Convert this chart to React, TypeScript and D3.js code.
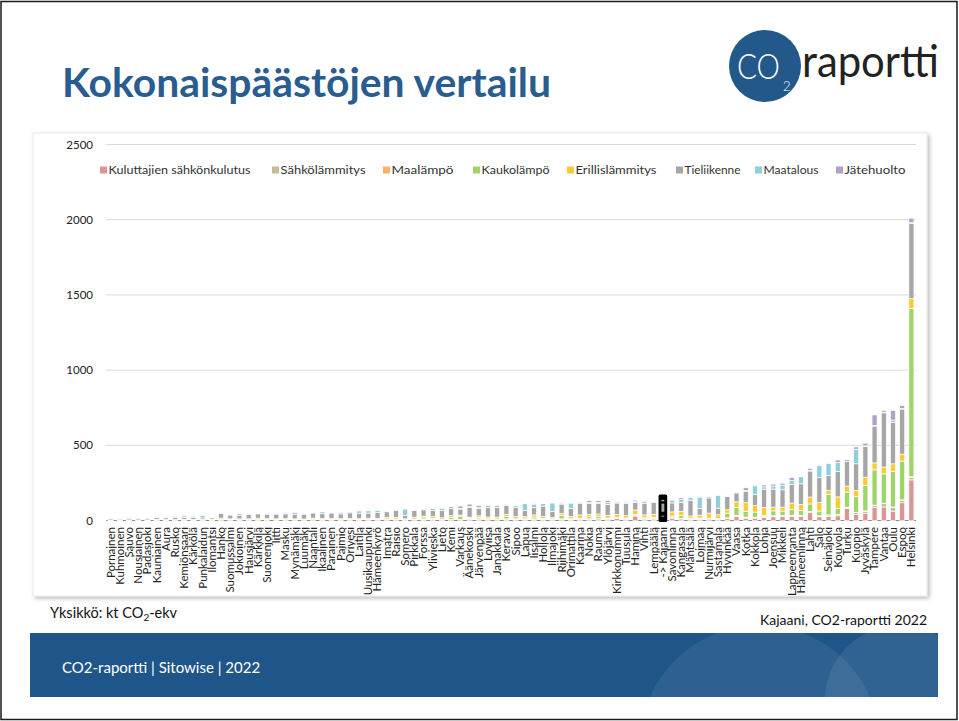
import React from 'react';
import * as d3 from 'd3';

const municipalities = [
  'Pornainen','Kuhmoinen','Sauvo','Nousiainen','Padasjoki','Kauniainen','Aura','Rusko','Kemiönsaari','Kärkölä',
  'Punkalaidun','Ilomantsi','Hanko','Suomussalmi','Jokioinen','Hausjärvi','Kärkkilä','Suonenjoki','Iitti','Masku',
  'Mynämäki','Luumäki','Naantali','Ikaalinen','Parainen','Paimio','Orivesi','Laitila','Uusikaupunki','Hämeenkyrö',
  'Imatra','Raisio','Somero','Pirkkala','Forssa','Ylivieska','Lieto','Kemi','Varkaus','Äänekoski',
  'Järvenpää','Loviisa','Janakkala','Kerava','Sipoo','Lapua','Iisalmi','Hollola','Ilmajoki','Riihimäki',
  'Orimattila','Kaarina','Nokia','Rauma','Ylöjärvi','Kirkkonummi','Tuusula','Hamina','Vihti','Lempäälä',
  '-> Kajaani','Savonlinna','Kangasala','Mäntsälä','Loimaa','Nurmijärvi','Sastamala','Hyvinkää','Vaasa','Kotka',
  'Kokkola','Lohja','Joensuu','Mikkeli','Lappeenranta','Hämeenlinna','Lahti','Salo','Seinäjoki','Kouvola',
  'Turku','Kuopio','Jyväskylä','Tampere','Vantaa','Oulu','Espoo','Helsinki'
];

const kuluttajienSahkonkulutus = [
  1,1,1,1,1,2,2,2,2,2, 2,1,4,3,3,3,3,3,3,3, 3,3,4,3,4,3,3,3,4,4, 5,5,3,5,5,5,4,6,6,6,
  8,6,6,8,6,6,7,7,5,8, 6,8,8,10,8,14,8,30,9,9, 12,14,10,7,7,9,7,12,25,16,
  16,20,25,26,27,26,52,25,26,31, 80,41,48,86,90,62,118,270
];
const sahkolammitys = [
  1,1,1,1,1,1,1,1,2,1, 2,1,2,2,2,2,2,2,2,2, 2,2,2,2,2,2,2,2,2,2, 2,2,2,2,2,4,2,2,2,4,
  3,3,3,3,3,4,4,3,4,3, 4,3,3,3,4,4,4,4,7,7, 6,8,5,7,7,5,5,5,7,5,
  5,7,5,5,5,8,8,5,10,8, 7,12,14,14,22,26,16,18
];
const maalampo = [
  0,0,0,0,0,0,0,0,0,0, 0,0,0,0,0,0,0,0,0,0, 0,0,0,0,0,0,0,0,0,0, 0,0,0,0,0,0,0,0,0,0,
  0,0,0,0,0,0,0,0,0,0, 0,0,0,0,0,0,0,0,0,0, 1,0,0,0,0,0,0,0,1,1,
  1,1,1,1,1,1,1,1,1,1, 2,1,2,2,3,2,3,3
];
const kaukolampo = [
  0,0,0,0,0,2,0,0,1,1, 0,6,2,2,1,1,2,2,1,1, 1,1,2,2,2,2,2,2,2,2, 3,3,1,3,10,4,2,14,18,4,
  8,2,2,16,3,6,12,4,2,22, 2,4,14,14,4,2,4,6,2,5, 22,8,18,1,2,2,2,32,54,40,
  34,5,33,31,40,32,49,32,137,39, 100,107,170,235,195,235,258,1120
];
const erillislammitys = [
  2,2,2,2,2,3,3,3,3,3, 3,2,8,4,5,5,9,5,5,6, 5,4,8,6,6,5,6,5,7,7, 10,10,5,12,12,14,10,12,10,8,
  12,12,12,14,14,10,14,12,8,14, 14,22,16,16,18,20,16,30,19,19, 10,27,26,15,20,33,24,22,37,58,
  44,54,25,26,43,40,46,57,26,78, 40,39,54,46,46,52,46,65
];
const tieliikenne = [
  9,7,9,10,10,11,12,14,13,13, 10,9,32,25,24,28,28,30,32,32, 28,32,34,32,36,32,38,36,34,38, 38,48,22,46,42,40,48,45,40,66,
  50,62,64,58,60,40,48,70,40,62, 56,78,74,72,72,76,80,50,78,82, 70,60,62,105,45,101,44,89,59,74,
  73,122,120,115,125,137,173,165,98,169, 162,177,204,245,360,275,300,500
];
const maatalous = [
  2,2,6,5,2,0,6,9,10,9, 18,1,3,4,11,7,2,6,5,7, 14,4,3,13,5,11,7,16,16,15, 3,6,44,4,6,14,15,3,4,4,
  4,14,12,2,12,46,24,16,58,4, 34,4,4,6,14,8,10,8,12,2, 24,19,21,17,75,9,85,5,7,5,
  57,15,20,31,24,47,5,79,82,60, 0,97,4,4,4,16,4,4
];
const jatehuolto = [
  1,1,1,1,1,1,1,1,1,1, 1,1,1,1,1,1,1,1,1,1, 1,1,1,1,1,1,1,1,2,2, 2,2,2,2,2,2,2,10,16,17,
  15,4,4,6,3,4,3,4,4,6, 5,4,13,11,14,3,5,8,4,1, 8,3,10,1,2,2,2,3,5,19,
  0,12,13,13,21,3,13,0,0,16, 12,15,18,70,12,64,20,30
];

const seriesNames = [
  'Kuluttajien sähkönkulutus','Sähkölämmitys','Maalämpö','Kaukolämpö',
  'Erillislämmitys','Tieliikenne','Maatalous','Jätehuolto'
];
const seriesValues = [
  kuluttajienSahkonkulutus, sahkolammitys, maalampo, kaukolampo,
  erillislammitys, tieliikenne, maatalous, jatehuolto
];
const seriesColors = ['#da9694','#c4bd97','#fab06c','#9fd46a','#ffc931','#a6a6a6','#92cddc','#b1a0c7'];
const yTicks = [0, 500, 1000, 1500, 2000, 2500];
const highlighted = '-> Kajaani';

const FONT = "Lato, Carlito, 'Open Sans', sans-serif";

export default function App() {
  const W = 959, H = 721;
  const plotL = 106, plotR = 916, plotTop = 144.5, plotBottom = 520.5;

  const rows = municipalities.map((m, i) => {
    const r: Record<string, any> = { name: m };
    seriesNames.forEach((s, k) => { r[s] = seriesValues[k][i]; });
    return r;
  });
  const stacked = d3.stack<any>().keys(seriesNames)(rows);

  const x = d3.scaleBand<string>().domain(municipalities).range([plotL, plotR])
    .paddingInner(0.45).paddingOuter(0.225);
  const y = d3.scaleLinear().domain([0, 2500]).range([plotBottom, plotTop]);
  const bw = x.bandwidth();

  const legendX = [100, 272, 383, 473, 567, 676, 755, 836];
  const legendW = [142, 85, 62, 68, 81, 56, 55, 61];

  const hx = (x(highlighted) as number);
  const hTop = y(d3.sum(seriesValues, (s) => s[municipalities.indexOf(highlighted)]));

  return (
    <svg width={W} height={H} style={{ position: 'absolute', left: 0, top: 0, background: '#fff' }}
      fontFamily={FONT}>
      <defs>
        <filter id="panelShadow" x="-5%" y="-5%" width="110%" height="115%">
          <feDropShadow dx="2" dy="2" stdDeviation="2" floodColor="#000" floodOpacity="0.28" />
        </filter>
        <clipPath id="bannerClip">
          <rect x={30} y={633} width={908} height={64} />
        </clipPath>
      </defs>
      <rect x={0} y={0} width={W} height={H} fill="#fff" />
      <rect x={1} y={1.5} width={W - 3} height={H - 3} fill="none" stroke="#1a1a1a" strokeWidth={1.5} />

      {/* Title */}
      <text x={62} y={97} fontSize={40} fontWeight={700} fill="#2a5d8f"
        textLength={489} lengthAdjust="spacingAndGlyphs">Kokonaispäästöjen vertailu</text>

      {/* Logo */}
      <circle cx={765} cy={66} r={36} fill="#23588b" />
      <text x={737} y={79} fontSize={36} fontWeight={300} fill="#fff"
        textLength={43} lengthAdjust="spacingAndGlyphs">CO</text>
      <text x={783} y={91} fontSize={13} fontWeight={300} fill="#fff">2</text>
      <text x={802} y={77} fontSize={45} fill="#222" textLength={137} lengthAdjust="spacingAndGlyphs">raportti</text>

      {/* Chart panel */}
      <rect x={33} y={133} width={894} height={463} fill="#fff" stroke="#e4e4e4" strokeWidth={0.8}
        filter="url(#panelShadow)" />

      {/* Gridlines & y labels */}
      {yTicks.map((t) => (
        <g key={t}>
          <line x1={plotL} x2={plotR} y1={y(t)} y2={y(t)} stroke={t === 0 ? '#8c8c8c' : '#d9d9d9'} strokeWidth={t === 0 ? 1.2 : 1} />
          <text x={93} y={y(t) + 4} fontSize={11.5} fill="#222" textAnchor="end">{t}</text>
        </g>
      ))}

      {/* Highlight backdrop for Kajaani */}
      <rect x={hx - 1.8} y={hTop - 3} width={bw + 3.6} height={plotBottom - hTop + 4.5} rx={1.5} fill="#000" />

      {/* Bars */}
      {stacked.map((layer, k) => (
        <g key={layer.key} fill={seriesColors[k]}>
          {layer.map((d, i) => {
            const name = municipalities[i];
            const isH = name === highlighted;
            const y0 = y(d[0]), y1 = y(d[1]);
            return (
              <rect key={name} x={x(name)} y={y1} width={bw} height={Math.max(0, y0 - y1)}
                stroke={isH ? '#000' : '#fff'} strokeWidth={isH ? 2.2 : 0.7} />
            );
          })}
        </g>
      ))}

      {/* X labels */}
      {municipalities.map((m) => {
        const cx = (x(m) as number) + bw / 2;
        return (
          <text key={m} transform={`translate(${cx + 3.9},527) rotate(-90)`} fontSize={11.5}
            fill="#222" textAnchor="end">{m}</text>
        );
      })}

      {/* Legend */}
      {seriesNames.map((s, k) => (
        <g key={s}>
          <rect x={legendX[k]} y={166.5} width={7} height={7} fill={seriesColors[k]} />
          <text x={legendX[k] + 8.5} y={174} fontSize={12} fill="#333"
            textLength={legendW[k]} lengthAdjust="spacingAndGlyphs">{s}</text>
        </g>
      ))}

      {/* Notes */}
      <text x={50} y={618} fontSize={14.5} fill="#111">
        Yksikkö: kt CO<tspan fontSize={10} dy={3}>2</tspan><tspan dy={-3}>-ekv</tspan>
      </text>
      <text x={927} y={625} fontSize={14} fill="#111" textAnchor="end">Kajaani, CO2-raportti 2022</text>

      {/* Footer banner */}
      <rect x={30} y={633} width={908} height={64} fill="#1f5689" />
      <g clipPath="url(#bannerClip)">
        <circle cx={760} cy={745} r={120} fill="#fff" opacity={0.07} />
        <circle cx={900} cy={700} r={75} fill="#fff" opacity={0.08} />
      </g>
      <text x={62} y={673} fontSize={15} fill="#fff">CO2-raportti | Sitowise | 2022</text>
    </svg>
  );
}
